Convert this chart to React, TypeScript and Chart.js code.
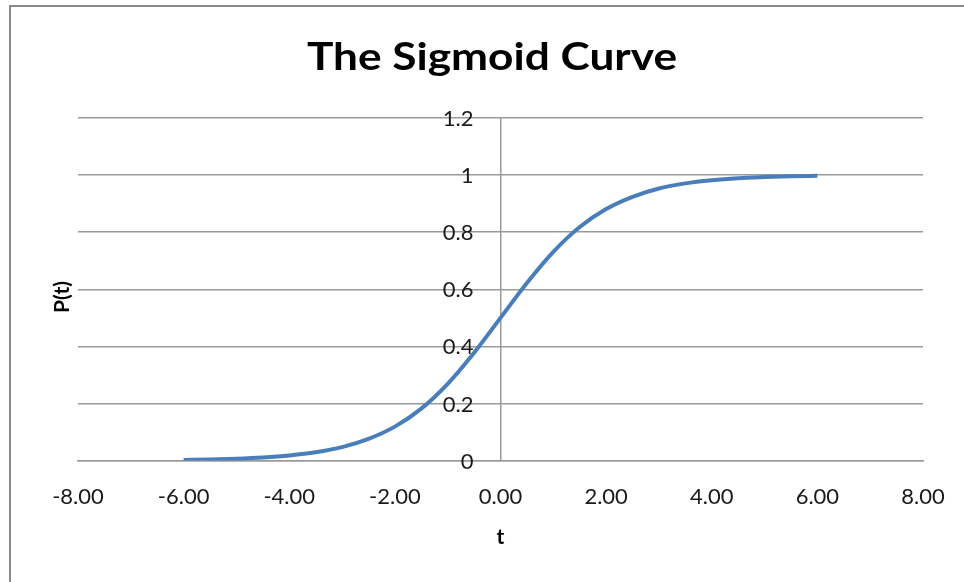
import React, { useEffect, useRef } from "react";
import { Chart, registerables } from "chart.js";

Chart.register(...registerables);

// Logistic curve P(t) sampled every 0.5 from -6 to 6
const tValues = [
  -6, -5.5, -5, -4.5, -4, -3.5, -3, -2.5, -2, -1.5, -1, -0.5, 0,
  0.5, 1, 1.5, 2, 2.5, 3, 3.5, 4, 4.5, 5, 5.5, 6,
];
const pValues = [
  0.0025, 0.0041, 0.0067, 0.011, 0.018, 0.029, 0.047, 0.076, 0.119, 0.182,
  0.269, 0.378, 0.5, 0.622, 0.731, 0.818, 0.881, 0.924, 0.953, 0.971, 0.982,
  0.989, 0.993, 0.996, 0.9975,
];

const chartTitle = "The Sigmoid Curve";
const xAxisTitle = "t";
const yAxisTitle = "P(t)";

const FONT = "Lato, 'Open Sans', sans-serif";

const formatY = (v: number) => String(Number(v.toFixed(1)));

const framePlugin = {
  id: "frameAndLabels",
  beforeDraw(chart: any) {
    const { ctx, width, height } = chart;
    ctx.save();
    ctx.fillStyle = "#ffffff";
    ctx.fillRect(0, 0, width, height);
    // outer frame (continues past the right and bottom edges)
    ctx.strokeStyle = "#8a8a8a";
    ctx.lineWidth = 2;
    ctx.beginPath();
    ctx.moveTo(10, height + 10);
    ctx.lineTo(10, 6);
    ctx.lineTo(width + 10, 6);
    ctx.stroke();
    ctx.restore();
  },
  afterDraw(chart: any) {
    const { ctx, chartArea, scales } = chart;
    const xScale = scales.x;
    const yScale = scales.y;
    ctx.save();
    ctx.fillStyle = "#1a1a1a";
    // y tick labels sit just left of the vertical axis at t = 0
    ctx.font = `22px ${FONT}`;
    ctx.textAlign = "right";
    ctx.textBaseline = "middle";
    const axisX = xScale.getPixelForValue(0);
    for (const tick of yScale.ticks) {
      ctx.fillText(formatY(tick.value), axisX - 27, yScale.getPixelForValue(tick.value) + 1);
    }

    ctx.fillStyle = "#000000";
    ctx.textAlign = "center";
    // chart title, slightly widened
    ctx.save();
    ctx.font = `bold 38px ${FONT}`;
    const w = ctx.measureText(chartTitle).width;
    const sx = 370 / w;
    ctx.translate(492, 58);
    ctx.scale(sx, 1);
    ctx.fillText(chartTitle, 0, 0);
    ctx.restore();

    ctx.font = `bold 21px ${FONT}`;
    ctx.fillText(xAxisTitle, (chartArea.left + chartArea.right) / 2, 537);
    ctx.translate(62, 297);
    ctx.rotate(-Math.PI / 2);
    ctx.fillText(yAxisTitle, 0, 0);
    ctx.restore();
  },
};

export default function App() {
  const canvasRef = useRef<HTMLCanvasElement>(null);

  useEffect(() => {
    const canvas = canvasRef.current;
    if (!canvas) return;
    const chart = new Chart(canvas, {
      type: "scatter",
      data: {
        datasets: [
          {
            data: tValues.map((t, i) => ({ x: t, y: pValues[i] })),
            showLine: true,
            borderColor: "#4a7ebb",
            borderWidth: 4,
            pointRadius: 0,
            cubicInterpolationMode: "monotone",
            fill: false,
          },
        ],
      },
      options: {
        animation: false,
        responsive: false,
        maintainAspectRatio: false,
        layout: { padding: { left: 78, right: 41, top: 118, bottom: 49 } },
        plugins: {
          legend: { display: false },
          title: { display: false },
          tooltip: { enabled: false },
        },
        scales: {
          x: {
            type: "linear",
            min: -8,
            max: 8,
            position: "bottom",
            grid: { display: false, drawTicks: false },
            border: { display: true, color: "#9a9a9a", width: 1.5 },
            afterFit: (scale: any) => {
              scale.paddingLeft = 0;
              scale.paddingRight = 0;
            },
            ticks: {
              stepSize: 2,
              padding: 23,
              color: "#1a1a1a",
              font: { family: FONT, size: 22 },
              callback: (v: any) => Number(v).toFixed(2),
            },
          },
          y: {
            type: "linear",
            min: 0,
            max: 1.2,
            position: { x: 0 } as any,
            grid: { color: "#9a9a9a", lineWidth: 1.5, drawTicks: false },
            border: { display: true, color: "#9a9a9a", width: 1.5 },
            afterFit: (scale: any) => {
              scale.paddingTop = 0;
              scale.paddingBottom = 0;
              scale.paddingLeft = 0;
              scale.paddingRight = 0;
            },
            ticks: {
              stepSize: 0.2,
              display: false,
            },
          },
        },
      },
      plugins: [framePlugin],
    });
    return () => chart.destroy();
  }, []);

  return (
    <div style={{ position: "fixed", left: 0, top: 0, width: 964, height: 582, overflow: "hidden", background: "#fff" }}>
      <canvas ref={canvasRef} width={964} height={582} style={{ width: 964, height: 582, display: "block" }} />
    </div>
  );
}
